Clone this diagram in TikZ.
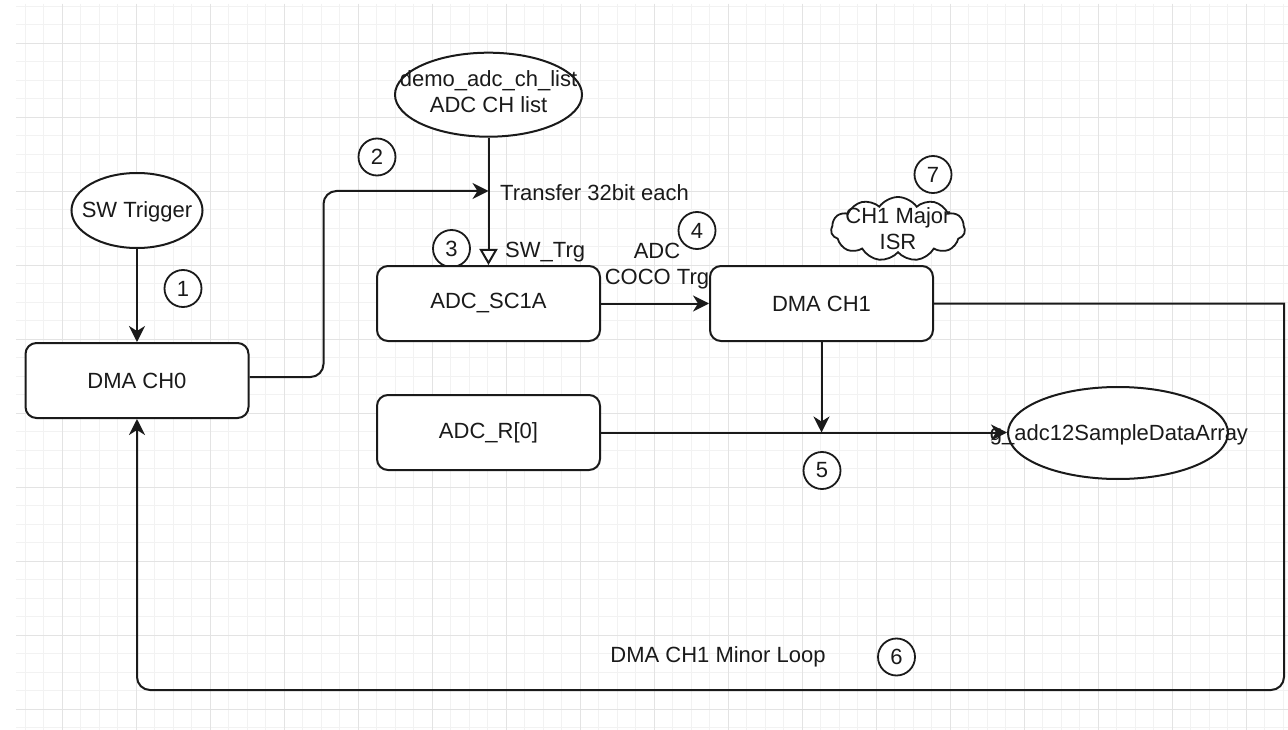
\documentclass[tikz,border=0pt]{standalone}
\usepackage{fontspec}
\setmainfont{Liberation Sans}
\usetikzlibrary{shapes.geometric,shapes.symbols,arrows.meta}
\definecolor{minorgrid}{HTML}{F2F2F2}
\definecolor{majorgrid}{HTML}{E3E3E3}
\definecolor{ink}{HTML}{1A1A1A}
\newcommand\dfont{\fontsize{22}{26}\selectfont}
\tikzset{
  box/.style={draw=ink, line width=2pt, rounded corners=11pt, minimum width=223pt, minimum height=75pt, fill=white, inner sep=0pt, font=\dfont, text=ink},
  oval/.style={draw=ink, line width=2pt, ellipse, fill=white, inner sep=0pt},
  num/.style={draw=ink, line width=1.8pt, circle, minimum size=37pt, inner sep=0pt, font=\dfont, text=ink, fill=white},
  lbl/.style={inner sep=0pt, font=\dfont, text=ink, align=center},
  conn/.style={draw=ink, line width=2pt, -{Stealth[length=16pt,width=16pt,inset=5pt]}},
  gminor/.style={draw=minorgrid, line width=1pt},
  gmajor/.style={draw=majorgrid, line width=1.2pt},
}
\begin{document}
\begin{tikzpicture}[x=1pt,y=-1pt]
\useasboundingbox (0,0) rectangle (1288,730);
\fill[white] (0,0) rectangle (1288,730);
% grid
\foreach \k in {-2,...,66} {\draw[gminor] ({62.3+18.5*\k},4) -- ({62.3+18.5*\k},730);}
\foreach \k in {-2,...,37} {\draw[gminor] (16,{43.3+18.5*\k}) -- (1288,{43.3+18.5*\k});}
\foreach \k in {0,...,16} {\draw[gmajor] ({62.3+74*\k},4) -- ({62.3+74*\k},730);}
\foreach \k in {0,...,9} {\draw[gmajor] (16,{43.3+74*\k}) -- (1288,{43.3+74*\k});}

% nodes
\node[oval, minimum width=131pt, minimum height=75pt] (sw) at (137,210.5) {};
\node[lbl] (swtxt) at (137,212) {SW Trigger};
\node[box] (ch0) at (137,380.5) {DMA CH0};
\node[num] (n1) at (183,288.5) {1};
\node[oval, minimum width=187pt, minimum height=84pt] (list) at (488.5,94.7) {};
\node[lbl] (listtxt) at (488.5,92) {demo\_adc\_ch\_list\\ADC CH list};
\node[num] (n2) at (377,157) {2};
\coordinate (j) at (488.5,191);
\node[lbl, anchor=west] (tr) at (500,193) {Transfer 32bit each};
\node[lbl, anchor=west] (swtrg) at (505,252) {SW\_Trg};
\node[num] (n3) at (451.5,248.5) {3};
\node[box] (sc1a) at (488.5,303.5) {ADC\_SC1A};
\node[box] (ch1) at (821.5,303.5) {DMA CH1};
\node[lbl] (coco) at (657,266.5) {ADC\\COCO Trg};
\node[num] (n4) at (697,230.5) {4};
\node[cloud, draw=ink, line width=1.8pt, cloud puffs=11, cloud puff arc=110, aspect=2, minimum width=134pt, minimum height=64pt, inner sep=0pt, fill=white] (isr) at (898,229) {};
\node[lbl] (isrtxt) at (isr) {CH1 Major\\ISR};
\node[num] (n7) at (933,174.5) {7};
\node[box] (adcr) at (488.5,432.5) {ADC\_R[0]};
\node[oval, minimum width=220pt, minimum height=92pt] (arr) at (1118,433) {};
\node[lbl] (arrtxt) at (1119,435) {g\_adc12SampleDataArray};
\node[num] (n5) at (822,470.5) {5};
\coordinate (k) at (ch1.south |- adcr.east);
\node[lbl] (loop) at (718,657) {DMA CH1 Minor Loop};
\node[num] (n6) at (896.5,657) {6};
\coordinate (r1) at (1284,303.5);
\coordinate (r2) at (1284,690);
\coordinate (l1) at (137,690);

% connectors
\draw[conn] (sw) -- (ch0);
\draw[conn, rounded corners=13pt] ([yshift=3.5pt]ch0.east) -- ++(74,0) |- (j);
\draw[draw=ink, line width=2pt, -{Triangle[fill=white, length=16pt, width=18pt]}] (list) -- (sc1a);
\draw[conn] (sc1a) -- (ch1);
\draw[conn] (ch1) -- (k);
\draw[conn] (adcr.east) -- (adcr.east -| arr.west);
\draw[conn] (ch1.east) -- (r1) [rounded corners=13pt] -- (r2) -- (l1) -- (ch0.south);
\end{tikzpicture}
\end{document}
